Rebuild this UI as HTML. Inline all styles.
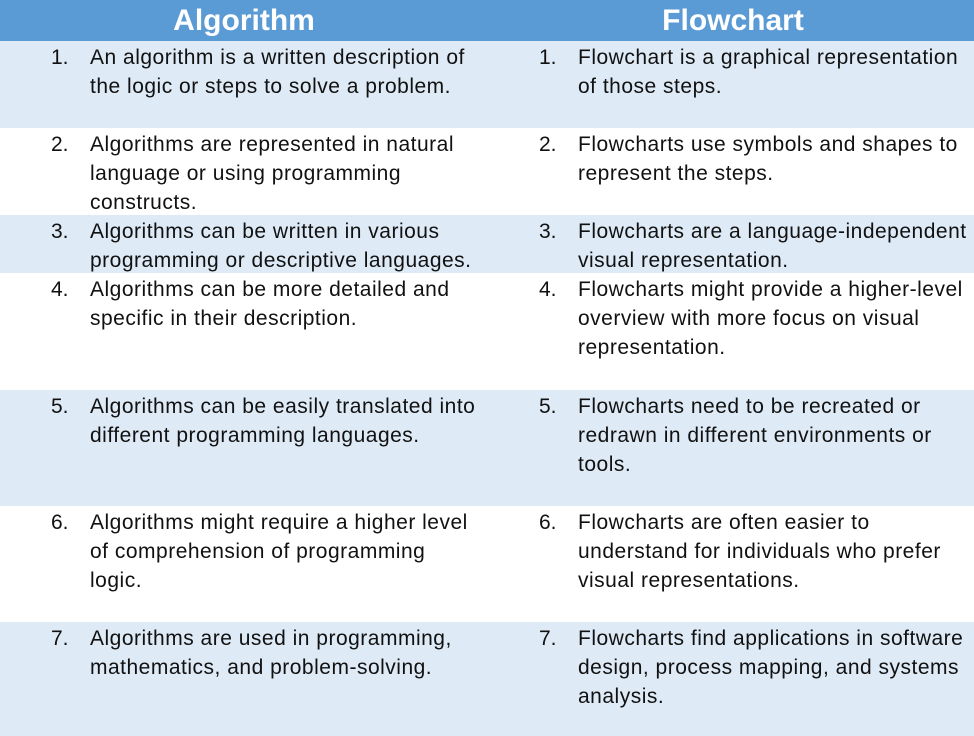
<!DOCTYPE html>
<html><head><meta charset="utf-8"><style>
body{margin:0;width:974px;height:736px;overflow:hidden;background:#fff;font-family:"Liberation Sans",sans-serif;position:relative}
.h{position:absolute;top:0;left:0;width:974px;height:41px;background:#5b9bd5}
.h div{position:absolute;top:0;line-height:41px;color:#fff;font-weight:bold;font-size:30px;text-align:center}
.r{position:absolute;left:0;width:974px}
.b{background:#deeaf6}
.c{position:absolute;font-size:21px;letter-spacing:0.5px;line-height:29px;color:#111;white-space:nowrap}
.n{position:absolute;font-size:21px;line-height:29px;color:#111}
</style></head><body>
<div class="h"><div style="left:0;width:488px">Algorithm</div><div style="left:488px;width:490px">Flowchart</div></div>
<div class="r b" style="top:41px;height:87px"></div>
<div class="r" style="top:128px;height:87px"></div>
<div class="r b" style="top:215px;height:58px"></div>
<div class="r" style="top:273px;height:117px"></div>
<div class="r b" style="top:390px;height:116px"></div>
<div class="r" style="top:506px;height:116px"></div>
<div class="r b" style="top:622px;height:114px"></div>

<div class="n" style="left:51px;top:43px">1.</div><div class="c" style="left:90px;top:43px">An algorithm is a written description of<br>the logic or steps to solve a problem.</div>
<div class="n" style="left:539px;top:43px">1.</div><div class="c" style="left:578px;top:43px">Flowchart is a graphical representation<br>of those steps.</div>

<div class="n" style="left:51px;top:130px">2.</div><div class="c" style="left:90px;top:130px">Algorithms are represented in natural<br>language or using programming<br>constructs.</div>
<div class="n" style="left:539px;top:130px">2.</div><div class="c" style="left:578px;top:130px">Flowcharts use symbols and shapes to<br>represent the steps.</div>

<div class="n" style="left:51px;top:217px">3.</div><div class="c" style="left:90px;top:217px">Algorithms can be written in various<br>programming or descriptive languages.</div>
<div class="n" style="left:539px;top:217px">3.</div><div class="c" style="left:578px;top:217px">Flowcharts are a language-independent<br>visual representation.</div>

<div class="n" style="left:51px;top:275px">4.</div><div class="c" style="left:90px;top:275px">Algorithms can be more detailed and<br>specific in their description.</div>
<div class="n" style="left:539px;top:275px">4.</div><div class="c" style="left:578px;top:275px">Flowcharts might provide a higher-level<br>overview with more focus on visual<br>representation.</div>

<div class="n" style="left:51px;top:392px">5.</div><div class="c" style="left:90px;top:392px">Algorithms can be easily translated into<br>different programming languages.</div>
<div class="n" style="left:539px;top:392px">5.</div><div class="c" style="left:578px;top:392px">Flowcharts need to be recreated or<br>redrawn in different environments or<br>tools.</div>

<div class="n" style="left:51px;top:508px">6.</div><div class="c" style="left:90px;top:508px">Algorithms might require a higher level<br>of comprehension of programming<br>logic.</div>
<div class="n" style="left:539px;top:508px">6.</div><div class="c" style="left:578px;top:508px">Flowcharts are often easier to<br>understand for individuals who prefer<br>visual representations.</div>

<div class="n" style="left:51px;top:624px">7.</div><div class="c" style="left:90px;top:624px">Algorithms are used in programming,<br>mathematics, and problem-solving.</div>
<div class="n" style="left:539px;top:624px">7.</div><div class="c" style="left:578px;top:624px">Flowcharts find applications in software<br>design, process mapping, and systems<br>analysis.</div>
</body></html>
